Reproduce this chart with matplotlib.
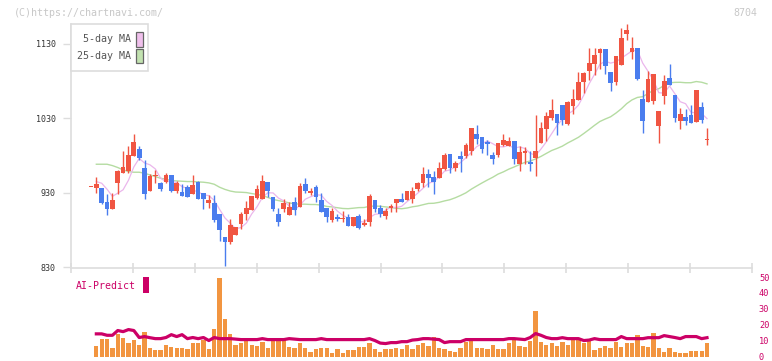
import matplotlib.pyplot as plt
import matplotlib.patches as mpatches
import numpy as np
import pandas as pd

# daily candles (index 0 .. 115)
opens = [938, 937.1, 936.7, 917.9, 909.0, 943.4, 957.2, 959.5, 980.0, 988.9,
         963.5, 933.1, 952.5, 943.4, 944.7, 953.7, 932.2, 931.8, 938.5, 928.7,
         945.2, 930.0, 917.0, 916.6, 901.9, 870.2, 864.8, 874.2, 888.5, 901.9,
         907.2, 923.7, 922.0, 944.7, 924.6, 901.9, 909.0, 901.0, 917.9, 911.2,
         942.1, 930.0, 938.0, 920.6, 909.9, 894.3, 897.8, 895.2, 897.8, 886.2,
         899.2, 887.6, 891.6, 920.6, 909.9, 899.2, 909.9, 916.6, 922.0, 920.6,
         921.5, 935.4, 943.0, 955.5, 951.4, 950.5, 962.6, 982.3, 963.5, 979.6,
         979.6, 986.3, 1009.1, 1005.0, 998.3, 980.9, 980.9, 994.3, 993.0, 999.7,
         968.9, 983.6, 971.5, 976.9, 997.0, 1015.8, 1030.5, 1035.8, 1047.9, 1022.4,
         1046.6, 1054.6, 1078.7, 1093.5, 1102.9, 1117.6, 1123.0, 1092.1, 1078.7, 1101.5,
         1143.0, 1118.9, 1124.3, 1056.0, 1051.9, 1053.3, 1019.8, 1060.0, 1084.1, 1061.3,
         1026.5, 1031.8, 1034.5, 1025.1, 1045.2, 1000.9]
highs = [938, 951.9, 937.0, 928.7, 929.5, 960.8, 986.3, 993.0, 1009.0, 993.0,
         974.2, 955.5, 960.8, 945.2, 957.2, 953.7, 946.1, 942.1, 940.3, 954.1,
         946.5, 930.0, 927.8, 927.8, 901.9, 870.2, 895.6, 884.0, 904.5, 919.7,
         926.0, 940.3, 954.1, 944.7, 924.6, 909.9, 921.9, 917.9, 924.6, 943.4,
         950.1, 937.1, 940.7, 930.0, 909.9, 909.9, 901.9, 905.9, 901.9, 897.8,
         901.9, 895.2, 928.7, 920.6, 913.9, 909.9, 915.2, 922.0, 930.0, 932.7,
         938.5, 945.2, 964.8, 962.2, 959.5, 971.5, 983.6, 982.3, 972.9, 986.3,
         997.0, 1017.1, 1021.1, 1005.0, 1001.0, 984.9, 997.0, 1009.1, 1005.0, 999.7,
         993.0, 991.6, 986.3, 1034.5, 1025.1, 1038.5, 1055.9, 1035.8, 1047.9, 1053.3,
         1069.4, 1092.1, 1092.1, 1124.3, 1124.3, 1124.3, 1123.0, 1092.1, 1113.6, 1151.1,
         1156.4, 1139.0, 1124.3, 1068.0, 1093.5, 1089.5, 1039.9, 1088.1, 1102.9, 1061.3,
         1043.9, 1042.6, 1047.9, 1068.0, 1051.9, 1017.1]
lows = [938, 929.5, 915.0, 901.0, 909.0, 928.7, 957.0, 957.2, 980.0, 974.2,
        922.0, 933.1, 942.9, 933.1, 942.9, 931.3, 929.5, 926.0, 925.0, 928.7,
        922.4, 908.6, 909.9, 891.6, 866.1, 832.6, 862.1, 874.0, 882.2, 893.8,
        907.0, 922.4, 922.0, 925.1, 906.3, 885.8, 905.0, 901.0, 901.0, 911.0,
        930.0, 927.3, 918.4, 904.5, 891.6, 891.6, 892.9, 891.6, 886.0, 886.0,
        882.2, 886.2, 886.2, 904.5, 897.8, 895.6, 904.5, 904.5, 917.9, 920.6,
        917.0, 932.0, 937.6, 938.5, 928.0, 950.5, 960.8, 957.2, 959.9, 958.6,
        976.9, 980.9, 995.7, 983.6, 980.9, 968.9, 978.2, 993.0, 993.0, 968.9,
        959.5, 968.9, 959.5, 952.8, 997.0, 999.7, 1027.8, 1007.7, 1021.1, 1021.1,
        1035.9, 1054.6, 1064.0, 1081.4, 1088.1, 1096.2, 1089.5, 1066.7, 1074.7, 1101.5,
        1135.0, 1109.5, 1081.4, 1010.4, 1051.9, 1049.3, 997.0, 1049.3, 1074.7, 1025.1,
        1015.8, 1021.1, 1023.8, 1025.1, 1023.8, 994.3]
closes = [938, 942.1, 917.0, 909.0, 920.6, 959.5, 964.8, 980.9, 998.3, 977.3,
          929.1, 952.8, 953.5, 935.8, 953.7, 932.7, 943.4, 926.0, 925.1, 940.7,
          922.4, 922.4, 921.1, 893.8, 880.4, 864.8, 886.7, 884.0, 901.9, 909.9,
          926.0, 935.4, 946.1, 933.1, 909.0, 891.6, 916.6, 911.2, 907.7, 939.4,
          932.7, 933.1, 924.6, 904.5, 897.8, 905.9, 895.2, 896.5, 886.2, 897.8,
          883.5, 890.2, 926.0, 909.0, 901.9, 905.9, 912.6, 922.0, 917.9, 932.7,
          932.7, 943.0, 955.0, 950.5, 945.2, 963.5, 980.9, 963.9, 970.2, 976.0,
          994.3, 1017.1, 1002.4, 989.0, 995.7, 975.6, 997.0, 1001.0, 999.7, 975.6,
          984.9, 986.3, 968.9, 986.3, 1017.1, 1033.2, 1041.2, 1023.8, 1027.8, 1051.9,
          1056.0, 1078.7, 1090.8, 1104.2, 1114.9, 1123.0, 1100.2, 1077.4, 1113.6, 1137.7,
          1148.4, 1124.3, 1082.7, 1026.5, 1082.7, 1089.5, 1039.9, 1080.1, 1074.7, 1030.5,
          1035.9, 1026.5, 1023.8, 1068.0, 1027.8, 1001.5]

# moving averages before enough candles exist
ma5_head = [np.nan, 945.2, 942.9, 934.9]
ma25_head = [np.nan, 968.4, 968.4, 968.4, 966.6, 964.0, 960.8, 958.6, 957.7, 957.7,
             956.3, 954.1, 951.9, 949.6, 948.3, 946.5, 946.1, 945.6, 945.2, 945.2,
             944.7, 944.3, 943.4, 941.6]

volume = [0, 6.9, 11.3, 11.3, 5.7, 14.5, 11.9, 8.8, 10.7, 7.5,
          15.7, 5.7, 4.4, 4.4, 7.5, 6.3, 5.7, 5.7, 5.0, 8.8,
          8.8, 10.7, 5.0, 17.6, 49.7, 23.9, 14.5, 7.5, 8.8, 10.7,
          7.5, 6.9, 9.4, 5.7, 10.7, 10.7, 10.7, 6.3, 5.7, 8.8,
          5.7, 3.1, 5.0, 5.7, 5.7, 2.5, 5.0, 2.5, 4.4, 4.4,
          6.3, 6.3, 8.8, 5.0, 3.1, 5.0, 5.0, 5.7, 5.0, 7.5,
          5.0, 7.5, 8.8, 6.9, 12.6, 5.7, 5.0, 3.8, 3.1, 5.7,
          9.4, 10.1, 5.7, 5.7, 5.0, 7.5, 5.0, 5.0, 8.8, 10.7,
          6.9, 6.3, 10.1, 28.9, 9.4, 7.5, 8.8, 6.9, 9.4, 7.5,
          10.7, 10.7, 8.8, 10.7, 4.4, 5.7, 6.9, 5.7, 9.4, 6.3,
          8.8, 8.8, 13.8, 6.9, 6.3, 15.1, 5.7, 3.1, 5.7, 3.1,
          2.5, 2.5, 3.8, 3.8, 3.8, 8.8]
ai_predict = [np.nan, 14.3, 14.3, 13.4, 13.4, 16.4, 15.7, 17.0, 16.4, 12.0,
              12.6, 11.9, 11.3, 11.3, 12.0, 13.8, 12.6, 13.8, 11.3, 12.0,
              11.3, 12.0, 10.1, 12.0, 11.3, 11.3, 11.3, 11.0, 10.7, 10.7,
              10.7, 10.7, 11.3, 10.7, 10.7, 10.7, 10.7, 11.3, 11.0, 10.7,
              10.7, 10.7, 10.7, 11.3, 10.7, 10.7, 10.7, 10.7, 10.7, 10.7,
              10.7, 10.7, 11.3, 10.1, 8.5, 8.2, 8.8, 8.8, 9.4, 9.4,
              10.4, 10.7, 11.3, 11.3, 11.0, 10.7, 8.8, 9.4, 9.4, 9.4,
              10.7, 10.7, 10.7, 10.7, 10.7, 10.7, 10.7, 10.7, 11.3, 11.3,
              11.0, 10.7, 12.0, 14.5, 13.4, 12.0, 11.3, 11.3, 11.9, 11.3,
              11.3, 11.3, 10.1, 10.4, 11.3, 10.7, 10.7, 10.7, 10.7, 12.6,
              11.3, 11.3, 11.3, 11.3, 11.9, 11.9, 11.9, 13.2, 12.6, 12.0,
              11.3, 12.6, 12.6, 12.6, 11.3, 11.9]

date_pos = [15, 25, 35, 45, 55, 65, 75, 85, 95, 105, 115]
date_labels = ['10/21', '11/5', '11/19', '12/4', '12/18', '1/6', '1/21', '2/4', '2/19', '3/6', '3/23']
price_ticks = [830, 930, 1030, 1130]
vol_ticks = [0, 10, 20, 30, 40, 50]

UP = '#f05542'
DOWN = '#4a7dee'
MAGENTA = '#cc0066'
MONO = 'DejaVu Sans Mono'

W, H = 772, 361
def fx(x):
    return x / W
def fy(y):
    return 1 - y / H

x = np.arange(len(closes))
o = np.array(opens); c = np.array(closes)
hi = np.array(highs); lo = np.array(lows)

s = pd.Series(closes)
ma5 = s.rolling(5).mean().values
ma5[:4] = ma5_head
ma25 = s.rolling(25).mean().values
ma25[:24] = ma25_head

fig = plt.figure(figsize=(W / 100, H / 100), dpi=100)

ax = fig.add_axes([fx(71), fy(268), fx(752 - 71), (268 - 24) / H])
xmin, xmax = -3.73, 123.4
ax.set_xlim(xmin, xmax)
ax.set_ylim(829.3, 1156.4)

ax.plot(x, ma25, color='#b5dca2', lw=1.0, zorder=2)
ax.plot(x, ma5, color='#ebb6ec', lw=0.9, zorder=2)

colors = np.where(c >= o, UP, DOWN)
ax.vlines(x, lo, hi, colors=colors, lw=1.0, zorder=3)
body = np.maximum(np.abs(c - o), 1.0)
ax.bar(x, body, bottom=np.minimum(o, c), width=0.88, color=colors, zorder=4)

for sp in ['top', 'right']:
    ax.spines[sp].set_visible(False)
for sp in ['left', 'bottom']:
    ax.spines[sp].set_color('#dddddd')
    ax.spines[sp].set_linewidth(1.2)

ax.set_yticks(price_ticks)
ax.set_yticklabels([str(v) for v in price_ticks], fontsize=6, family=MONO, color='#333333')
ax.tick_params(axis='y', length=6, color='#dddddd', width=1, pad=5)

ax.set_xticks(date_pos)
ax.set_xticklabels(date_labels, fontsize=6.2, family=MONO, color='#444444')
ax.tick_params(axis='x', which='major', length=0, pad=9)
ax.set_xticks(np.linspace(xmin, xmax, 12), minor=True)
ax.tick_params(axis='x', which='minor', length=7, direction='inout', color='#dddddd', width=1.2)

# volume + AI-Predict panel
ax2 = fig.add_axes([fx(71), fy(356.6), fx(752 - 71), 79.5 / H])
ax2.set_xlim(xmin, xmax)
ax2.set_ylim(0, 50)
ax2.bar(x, volume, width=0.8, color='#f29540', zorder=2)
ax2.plot(x, ai_predict, color=MAGENTA, lw=2.3, zorder=3)
for sp in ax2.spines.values():
    sp.set_visible(False)
ax2.set_xticks([])
ax2.yaxis.tick_right()
ax2.set_yticks(vol_ticks)
ax2.set_yticklabels([str(v) for v in vol_ticks], fontsize=6.2, family=MONO, color=MAGENTA)
ax2.tick_params(axis='y', length=0, pad=5)

# legend box
fig.add_artist(mpatches.Rectangle((fx(70.5), fy(71)), fx(148 - 70.5), 47 / H,
                                  transform=fig.transFigure, facecolor='white',
                                  edgecolor='#dddddd', lw=1.2, zorder=5))
for label, col, yc in [('5-day MA', '#f0c0ec', 39.2), ('25-day MA', '#c2e2b0', 56)]:
    fig.text(fx(131), fy(yc), label, ha='right', va='center', fontsize=7.2,
             family=MONO, color='#555555', zorder=6)
    fig.add_artist(mpatches.Rectangle((fx(136.3), fy(yc + 7.3)), fx(6.3), 14.6 / H,
                                      transform=fig.transFigure, facecolor=col,
                                      edgecolor='#666666', lw=0.9, zorder=6))

fig.text(fx(76), fy(286), 'AI-Predict', ha='left', va='center', fontsize=7.1,
         family=MONO, color=MAGENTA)
fig.add_artist(mpatches.Rectangle((fx(142.5), fy(292.5)), fx(6.5), 15.5 / H,
                                  transform=fig.transFigure, facecolor=MAGENTA,
                                  edgecolor='none'))

fig.text(fx(14), fy(12.5), '(C)https://chartnavi.com/', ha='left', va='center',
         fontsize=7.2, family=MONO, color='#c8c8c8')
fig.text(fx(757), fy(12.5), '8704', ha='right', va='center',
         fontsize=7.2, family=MONO, color='#c8c8c8')

fig.savefig('out.png', dpi=100)
